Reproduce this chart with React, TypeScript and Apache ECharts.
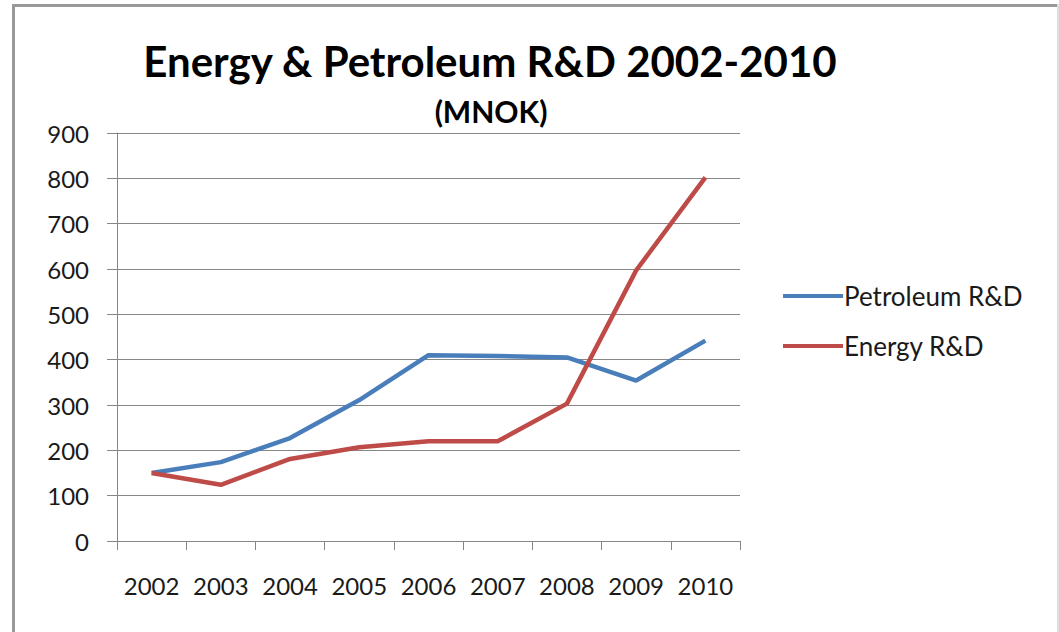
import React, { useEffect, useRef } from "react";
import * as echarts from "echarts";

const years = ["2002", "2003", "2004", "2005", "2006", "2007", "2008", "2009", "2010"];
const petroleum = [150, 174, 227, 311, 410, 408, 405, 354, 442];
const energy = [150, 124, 181, 207, 220, 220, 303, 597, 802];

const FONT = "Lato";

export default function App() {
  const ref = useRef<HTMLDivElement>(null);
  useEffect(() => {
    if (!ref.current) return;
    const chart = echarts.init(ref.current, null, { renderer: "svg" });
    chart.setOption({
      animation: false,
      backgroundColor: "#ffffff",
      title: [
        {
          text: "Energy & Petroleum R&D 2002-2010",
          left: 485,
          top: 35,
          textAlign: "center",
          textStyle: { fontFamily: FONT, fontWeight: "bold", fontSize: 42, color: "#000" },
        },
        {
          text: "(MNOK)",
          left: 486,
          top: 91,
          textAlign: "center",
          textStyle: { fontFamily: FONT, fontWeight: "bold", fontSize: 30, color: "#000" },
        },
      ],
      legend: {
        orient: "vertical",
        left: 778,
        top: 278,
        itemWidth: 60,
        itemHeight: 4,
        itemGap: 24,
        icon: "rect",
        textStyle: { fontFamily: FONT, fontSize: 26, color: "#1a1a1a", padding: [0, 0, 0, -4] },
        data: ["Petroleum R&D", "Energy R&D"],
      },
      grid: { left: 117, right: 319, top: 133, bottom: 91, containLabel: false },
      xAxis: {
        type: "category",
        data: years,
        boundaryGap: true,
        axisLine: { lineStyle: { color: "#868686", width: 1 } },
        axisTick: { show: true, length: 9, lineStyle: { color: "#868686" } },
        axisLabel: { fontFamily: FONT, fontSize: 24, color: "#1a1a1a", margin: 32, interval: 0, hideOverlap: false },
        splitLine: { show: false },
      },
      yAxis: {
        type: "value",
        min: 0,
        max: 900,
        interval: 100,
        axisLine: { show: true, lineStyle: { color: "#868686", width: 1 } },
        axisTick: { show: true, length: 10, lineStyle: { color: "#868686" } },
        axisLabel: { fontFamily: FONT, fontSize: 24, color: "#1a1a1a", margin: 28 },
        splitLine: { show: true, lineStyle: { color: "#868686", width: 1 } },
      },
      graphic: [
        { type: "rect", shape: { x: 12, y: 4, width: 1046, height: 3 }, style: { fill: "#999999" }, silent: true },
        { type: "rect", shape: { x: 12, y: 4, width: 3, height: 628 }, style: { fill: "#999999" }, silent: true },
        { type: "rect", shape: { x: 1057, y: 4, width: 2, height: 628 }, style: { fill: "#dddddd" }, silent: true },
      ],
      series: [
        {
          name: "Petroleum R&D",
          type: "line",
          data: petroleum,
          symbol: "none",
          lineStyle: { color: "#4a7ebb", width: 4.5 },
          itemStyle: { color: "#4a7ebb" },
        },
        {
          name: "Energy R&D",
          type: "line",
          data: energy,
          symbol: "none",
          lineStyle: { color: "#be4b48", width: 4.5 },
          itemStyle: { color: "#be4b48" },
        },
      ],
    });
    return () => chart.dispose();
  }, []);
  return (
    <div
      ref={ref}
      style={{ position: "absolute", left: 0, top: 0, width: 1059, height: 632 }}
    />
  );
}
